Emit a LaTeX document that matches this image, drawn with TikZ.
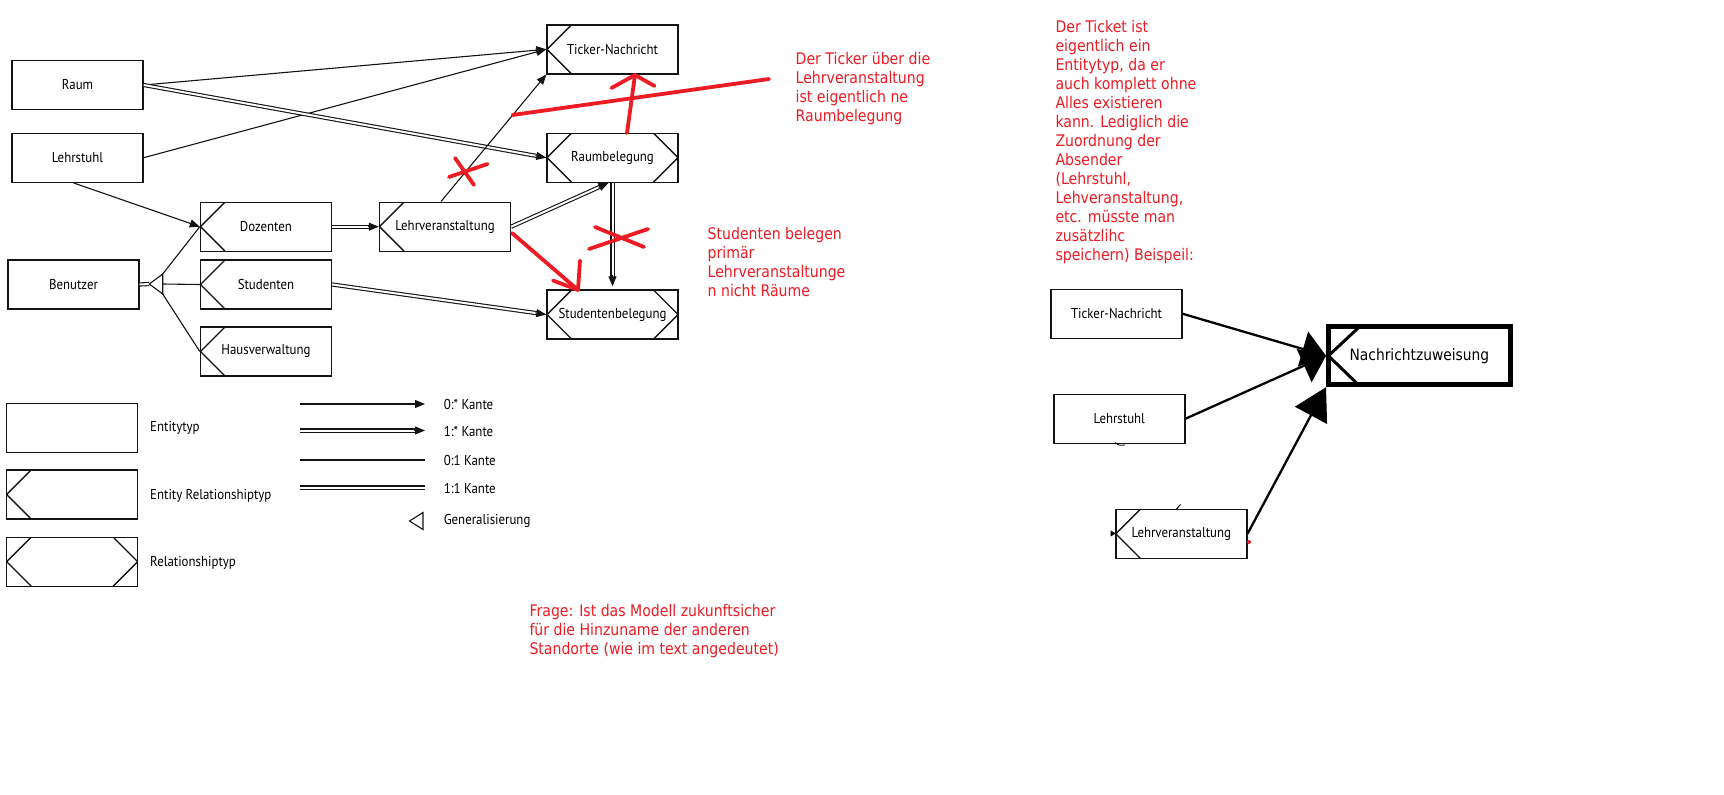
\documentclass[tikz,border=0pt]{standalone}
\usepackage{fontspec}
\setmainfont{PT Sans}
\newfontfamily\labelfont[FakeStretch=0.9]{PT Sans}
\newfontfamily\notefont[FakeStretch=0.88]{DejaVu Sans}
\usetikzlibrary{arrows.meta,calc}
\definecolor{pen}{RGB}{237,28,36}
\definecolor{ink}{RGB}{20,20,20}

% double line ending in a filled arrow tip
\newcommand\dbltip[2]{%
  \draw[dblline] (#1) -- (#2);
  \draw[arr] ($(#2)!11pt!(#1)$) -- (#2);}

\begin{document}
\begin{tikzpicture}[x=1pt,y=-1pt,
  lbl/.style={font=\labelfont\fontsize{14.3}{16}\selectfont},
  ent/.style={draw=ink, line width=1.4pt, minimum width=131pt, minimum height=49pt, inner sep=0pt, lbl},
  erent/.style={ent, path picture={\draw[ink, line width=1.4pt]
      ([xshift=24.5pt]path picture bounding box.north west) --
      (path picture bounding box.west) --
      ([xshift=24.5pt]path picture bounding box.south west);}},
  relent/.style={ent, path picture={\draw[ink, line width=1.4pt]
      ([xshift=24.5pt]path picture bounding box.north west) --
      (path picture bounding box.west) --
      ([xshift=24.5pt]path picture bounding box.south west)
      ([xshift=-24.5pt]path picture bounding box.north east) --
      (path picture bounding box.east) --
      ([xshift=-24.5pt]path picture bounding box.south east);}},
  legtext/.style={lbl, anchor=west, inner sep=0pt},
  one/.style={draw=ink, line width=1.1pt},
  arr/.style={one, -{Triangle[length=10pt,width=8pt]}},
  dblline/.style={draw=ink, line width=1.1pt, double=white, double distance=2pt, shorten >=9pt},
  redmark/.style={draw=pen, line width=3.8pt, line cap=round, line join=round},
  note/.style={anchor=north west, inner sep=0pt, align=left, text=pen,
      font=\notefont\fontsize{16}{19}\selectfont},
  bigA/.style={draw=black, line width=2.3pt, -{Triangle[length=24pt,width=36pt]}},
  bigC/.style={draw=black, line width=2.3pt, -{Triangle[length=32pt,width=36pt]}},
]
\fill[white] (0,0) rectangle (1724,795);
\useasboundingbox (0,0) rectangle (1724,795);

% ---------- model ----------
\node[ent]    (raum)      at (77.5,85)    {Raum};
\node[ent]    (lehrstuhl) at (77.5,157.7) {Lehrstuhl};
\node[ent]    (benutzer)  at (73.5,284.5) {Benutzer};
\node[erent]  (dozenten)  at (266,226.7)  {Dozenten};
\node[erent]  (studenten) at (266,284.5)  {Studenten};
\node[erent]  (hausv)     at (266,351.5)  {Hausverwaltung};
\node[erent]  (lv)        at (445,226.7)  {Lehrveranstaltung};
\node[erent]  (ticker)    at (612.5,49.3) {Ticker-Nachricht};
\node[relent] (raumbel)   at (612.5,157.7){Raumbelegung};
\node[relent] (studbel)   at (612.5,314.5){Studentenbelegung};

\draw[arr] (raum.east) -- (ticker.west);
\draw[arr] (lehrstuhl.east) -- (ticker.west);
\dbltip{raum.east}{raumbel.west}
\draw[arr] ([xshift=-4pt]lehrstuhl.south) -- (dozenten.west);
\dbltip{dozenten.east}{lv.west}
\draw[arr] ([xshift=-4pt]lv.north) -- (ticker.south west);
\dbltip{lv.east}{[xshift=-4pt]raumbel.south}
\dbltip{raumbel.south}{[yshift=3pt]studbel.north}
\dbltip{studenten.east}{studbel.west}

% generalisation of Benutzer
\coordinate (gtip) at (149.3,284);
\coordinate (gup)  at (162.7,274);
\coordinate (gmid) at (162.7,284);
\coordinate (gdn)  at (162.7,294);
\draw[dblline, shorten >=0pt] (benutzer.east) -- (gtip);
\draw[one, fill=white] (gtip) -- (gup) -- (gdn) -- cycle;
\draw[one] (gup) -- (dozenten.west);
\draw[one] (gmid) -- (studenten.west);
\draw[one] (gdn) -- (hausv.west);

% ---------- legend ----------
\node[ent]    (lgent) at (72.2,427.8) {};
\node[erent]  (lger)  at (72.2,494.5) {};
\node[relent] (lgrel) at (72.2,561.7) {};
\node[legtext] (tent) at (150,428)   {Entitytyp};
\node[legtext] (ter)  at (150,496)   {Entity Relationshiptyp};
\node[legtext] (trel) at (150,563)   {Relationshiptyp};

\coordinate (k1a) at (300,404);   \coordinate (k1b) at (425,404);
\coordinate (k2a) at (300,430.5); \coordinate (k2b) at (425,430.5);
\coordinate (k3a) at (300,460);   \coordinate (k3b) at (425,460);
\coordinate (k4a) at (300,487.5); \coordinate (k4b) at (425,487.5);
\draw[arr] (k1a) -- (k1b);
\dbltip{k2a}{k2b}
\draw[one] (k3a) -- (k3b);
\draw[dblline, shorten >=0pt] (k4a) -- (k4b);
\draw[one, line join=miter] (409.5,521) -- (423,512.5) -- (423,529.5) -- cycle;
\node[legtext] (tk1) at (443.6,404)   {0:* Kante};
\node[legtext] (tk2) at (443.6,431)   {1:* Kante};
\node[legtext] (tk3) at (443.6,460)   {0:1 Kante};
\node[legtext] (tk4) at (443.6,488)   {1:1 Kante};
\node[legtext] (tk5) at (443.6,520.5) {Generalisierung};

% ---------- red remarks ----------
\draw[redmark] (449,177) -- (487.5,164);
\draw[redmark] (455,158) -- (474,185);
\draw[redmark] (512.5,115) -- (769,79);
\draw[redmark] (627,133) -- (635,75);
\draw[redmark] (611.5,88) -- (635,75) -- (654.5,86);
\draw[redmark] (589,249) -- (648,229);
\draw[redmark] (595,227) -- (644,247);
\draw[redmark] (512,233) -- (578,290);
\draw[redmark] (553,280.5) -- (578,290) -- (580,260.5);

\node[note] (n1) at (795.5,52.5) {Der Ticker über die\\Lehrveranstaltung\\ist eigentlich ne\\Raumbelegung};
\node[note] (n2) at (707.5,226.8) {Studenten belegen\\primär\\Lehrveranstaltunge\\n nicht Räume};
\node[note] (n3) at (1055.3,20.2) {Der Ticket ist\\eigentlich ein\\Entitytyp, da er\\auch komplett ohne\\Alles existieren\\kann. Lediglich die\\Zuordnung der\\Absender\\(Lehrstuhl,\\Lehveranstaltung,\\etc. müsste man\\zusätzlihc\\speichern) Beispeil:};
\node[note] (n4) at (529.3,604.5) {Frage: Ist das Modell zukunftsicher\\für die Hinzuname der anderen\\Standorte (wie im text angedeutet)};

% ---------- example ----------
\node[ent]   (tn2) at (1116.5,313.8) {Ticker-Nachricht};
\node[ent]   (ls2) at (1119.3,418.7) {Lehrstuhl};
\node[erent] (lv2) at (1181.3,533.8) {Lehrveranstaltung};
\node[draw=black, line width=4.7pt, minimum width=182pt, minimum height=58pt, inner sep=0pt,
      font=\notefont\fontsize{15.7}{19}\selectfont,
      path picture={\draw[line width=3pt]
        ([xshift=31pt]path picture bounding box.north west) --
        (path picture bounding box.west) --
        ([xshift=30pt]path picture bounding box.south west);}]
      (nz) at (1419.4,355.8) {Nachrichtzuweisung};

\draw[bigA] (tn2.east) -- (nz.west);
\draw[bigA] (ls2.east) -- (nz.west);
\draw[bigC] (lv2.east) -- (nz.south west);

% small leftover marks
\draw[black, line width=1pt] (1176.5,509) -- (1180.5,504.5);
\fill[black] (1116,533.5) -- (1110.5,530.5) -- (1110.5,536.5) -- cycle;
\fill[pen] (1249,542) circle (2pt);
\draw[black, line width=0.8pt] (1115,442.5) .. controls (1119,445.5) .. (1125,445);
\end{tikzpicture}
\end{document}
